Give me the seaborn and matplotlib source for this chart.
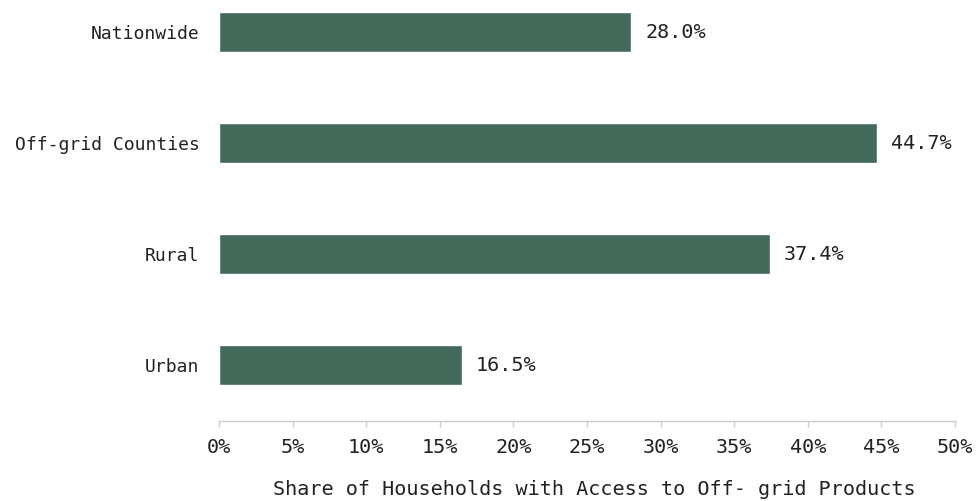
import matplotlib
matplotlib.use("Agg")
import matplotlib.pyplot as plt
import pandas as pd
import seaborn as sns

categories = ["Nationwide", "Off-grid Counties", "Rural", "Urban"]
shares = [28.0, 44.7, 37.4, 16.5]
x_ticks = [0, 5, 10, 15, 20, 25, 30, 35, 40, 45, 50]

df = pd.DataFrame({"area": categories, "share": shares})

sns.set_style("white")
plt.rcParams["font.family"] = ["DejaVu Sans Mono"]

fig = plt.figure(figsize=(9.78, 5.01), dpi=100)
ax = fig.add_axes([219 / 978, 80 / 501, 736 / 978, 421 / 501])

sns.barplot(data=df, x="share", y="area", color="#436a5a", saturation=1,
            width=0.36, ax=ax)

# value labels to the right of each bar
for i, v in enumerate(shares):
    ax.text(v + 0.95, i, f"{v:.1f}%", va="center", ha="left", fontsize=14.5,
            color="#222222")

ax.set_xlim(0, 50)
ax.set_ylim(3.5, -0.288)
ax.set_xticks(x_ticks)
ax.set_xticklabels([f"{t}%" for t in x_ticks])
ax.tick_params(axis="x", bottom=True, length=4.3, width=1, color="#cccccc",
               pad=8, labelsize=14.5, labelcolor="#222222")
ax.tick_params(axis="y", left=False, length=0, pad=14, labelsize=13,
               labelcolor="#222222")
ax.set_ylabel("")
ax.set_xlabel("Share of Households with Access to Off- grid Products",
              fontsize=14.5, color="#222222")
ax.xaxis.set_label_coords(0.51, -0.162, transform=ax.transAxes)
ax.xaxis.label.set_va("center")

for s in ["top", "right", "left"]:
    ax.spines[s].set_visible(False)
ax.spines["bottom"].set_color("#cccccc")
ax.spines["bottom"].set_linewidth(1)

fig.savefig("out.png", dpi=100)
